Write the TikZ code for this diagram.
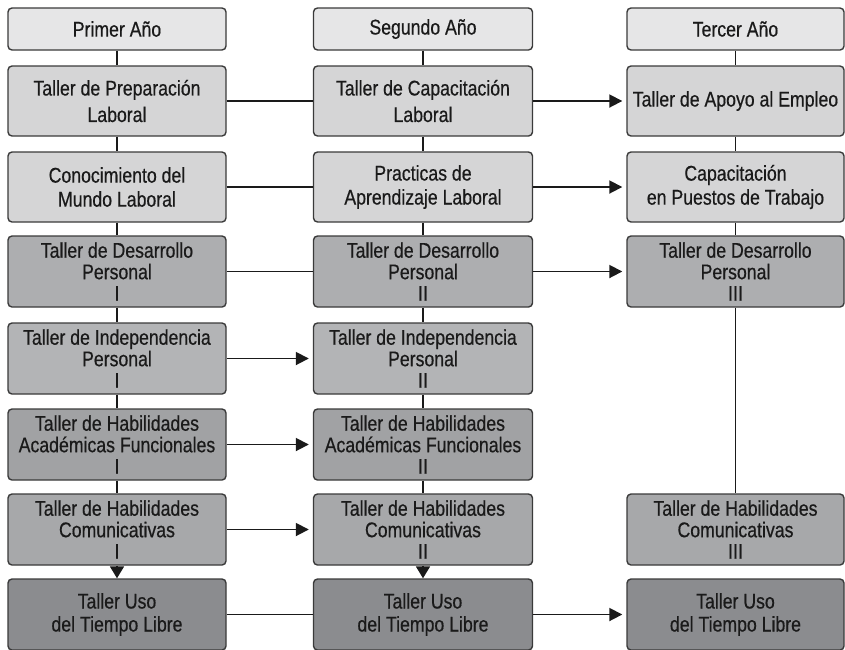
\documentclass[tikz,border=0pt]{standalone}
\usepackage{fontspec}
\setmainfont[FakeStretch=0.83,FakeBold=0.5]{Liberation Sans}
\usetikzlibrary{arrows.meta}

\definecolor{hdrfill}{HTML}{E6E6E7}
\definecolor{lightfill}{HTML}{D5D5D6}
\definecolor{devfill}{HTML}{ADAEB0}
\definecolor{indfill}{HTML}{B3B4B6}
\definecolor{acadfill}{HTML}{A1A2A4}
\definecolor{comfill}{HTML}{A7A8AA}
\definecolor{freefill}{HTML}{8B8C8F}
\definecolor{edge}{HTML}{3A3A3A}
\definecolor{ink}{HTML}{1A1A1A}

\tikzset{
  cell/.style={draw=edge, line width=1.4pt, rounded corners=4pt, inner sep=0pt,
    minimum height=70pt, align=center, text=ink, font=\fontsize{21.3}{24}\selectfont},
  colA/.style={minimum width=218pt},
  colB/.style={minimum width=219pt},
  colC/.style={minimum width=217pt},
  hdr/.style={cell, fill=hdrfill, minimum height=42pt},
  tight/.style={font=\fontsize{21.3}{21.5}\selectfont},
  link/.style={draw=ink, line width=1.8pt},
  flow/.style={link, -{Triangle[length=13pt,width=13pt]}, shorten >=4pt},
  down/.style={link, -{Triangle[length=12pt,width=14pt]}}
}

\begin{document}
\begin{tikzpicture}[x=1pt,y=-1pt]
\useasboundingbox (0,0) rectangle (845,649);

% year headers
\node[hdr,colA] (hA) at (117,29) {Primer Año};
\node[hdr,colB] (hB) at (423,29) {Segundo Año};
\node[hdr,colC] (hC) at (735.5,29) {Tercer Año};

% labour workshops
\node[cell,colA,fill=lightfill,font=\fontsize{21.3}{26.5}\selectfont] (a1) at (117,101) {Taller de Preparación\\Laboral};
\node[cell,colB,fill=lightfill,font=\fontsize{21.3}{26.5}\selectfont] (b1) at (423,101) {Taller de Capacitación\\Laboral};
\node[cell,colC,fill=lightfill] (c1) at (735.5,101) {Taller de Apoyo al Empleo};

\node[cell,colA,fill=lightfill] (a2) at (117,187) {Conocimiento del\\Mundo Laboral};
\node[cell,colB,fill=lightfill] (b2) at (423,187) {Practicas de\\Aprendizaje Laboral};
\node[cell,colC,fill=lightfill] (c2) at (735.5,187) {Capacitación\\en Puestos de Trabajo};

% personal development
\node[cell,colA,fill=devfill,tight,minimum height=71pt] (a3) at (117,271.5) {Taller de Desarrollo\\Personal\\I};
\node[cell,colB,fill=devfill,tight,minimum height=71pt] (b3) at (423,271.5) {Taller de Desarrollo\\Personal\\II};
\node[cell,colC,fill=devfill,tight,minimum height=71pt] (c3) at (735.5,271.5) {Taller de Desarrollo\\Personal\\III};

\node[cell,colA,fill=indfill,tight,minimum height=71pt] (a4) at (117,358.5) {Taller de Independencia\\Personal\\I};
\node[cell,colB,fill=indfill,tight,minimum height=71pt] (b4) at (423,358.5) {Taller de Independencia\\Personal\\II};

% functional skills
\node[cell,colA,fill=acadfill,tight,minimum height=71pt] (a5) at (117,444.5) {Taller de Habilidades\\Académicas Funcionales\\I};
\node[cell,colB,fill=acadfill,tight,minimum height=71pt] (b5) at (423,444.5) {Taller de Habilidades\\Académicas Funcionales\\II};

\node[cell,colA,fill=comfill,tight,minimum height=71pt] (a6) at (117,529.5) {Taller de Habilidades\\Comunicativas\\I};
\node[cell,colB,fill=comfill,tight,minimum height=71pt] (b6) at (423,529.5) {Taller de Habilidades\\Comunicativas\\II};
\node[cell,colC,fill=comfill,tight,minimum height=71pt] (c6) at (735.5,529.5) {Taller de Habilidades\\Comunicativas\\III};

% free time
\node[cell,colA,fill=freefill,font=\fontsize{21.3}{23}\selectfont,minimum height=71pt] (a7) at (117,614.5) {Taller Uso\\del Tiempo Libre};
\node[cell,colB,fill=freefill,font=\fontsize{21.3}{23}\selectfont,minimum height=71pt] (b7) at (423,614.5) {Taller Uso\\del Tiempo Libre};
\node[cell,colC,fill=freefill,font=\fontsize{21.3}{23}\selectfont,minimum height=71pt] (c7) at (735.5,614.5) {Taller Uso\\del Tiempo Libre};

% vertical links, first year
\draw[link] (hA) -- (a1);
\draw[link] (a1) -- (a2);
\draw[link] (a2) -- (a3);
\draw[link] (a3) -- (a4);
\draw[link] (a4) -- (a5);
\draw[link] (a5) -- (a6);
\draw[down] (a6) -- (a7);

% vertical links, second year
\draw[link] (hB) -- (b1);
\draw[link] (b1) -- (b2);
\draw[link] (b2) -- (b3);
\draw[link] (b3) -- (b4);
\draw[link] (b4) -- (b5);
\draw[link] (b5) -- (b6);
\draw[down] (b6) -- (b7);

% vertical links, third year
\draw[link] (hC) -- (c1);
\draw[link] (c1) -- (c2);
\draw[link] (c2) -- (c3);
\draw[link] (c3) -- (c6);

% links between years
\draw[link] (a1) -- (b1);
\draw[flow] (b1) -- (c1);
\draw[link] (a2) -- (b2);
\draw[flow] (b2) -- (c2);
\draw[link] (a3) -- (b3);
\draw[flow] (b3) -- (c3);
\draw[flow] (a4) -- (b4);
\draw[flow] (a5) -- (b5);
\draw[flow] (a6) -- (b6);
\draw[link] (a7) -- (b7);
\draw[flow] (b7) -- (c7);
\end{tikzpicture}
\end{document}
